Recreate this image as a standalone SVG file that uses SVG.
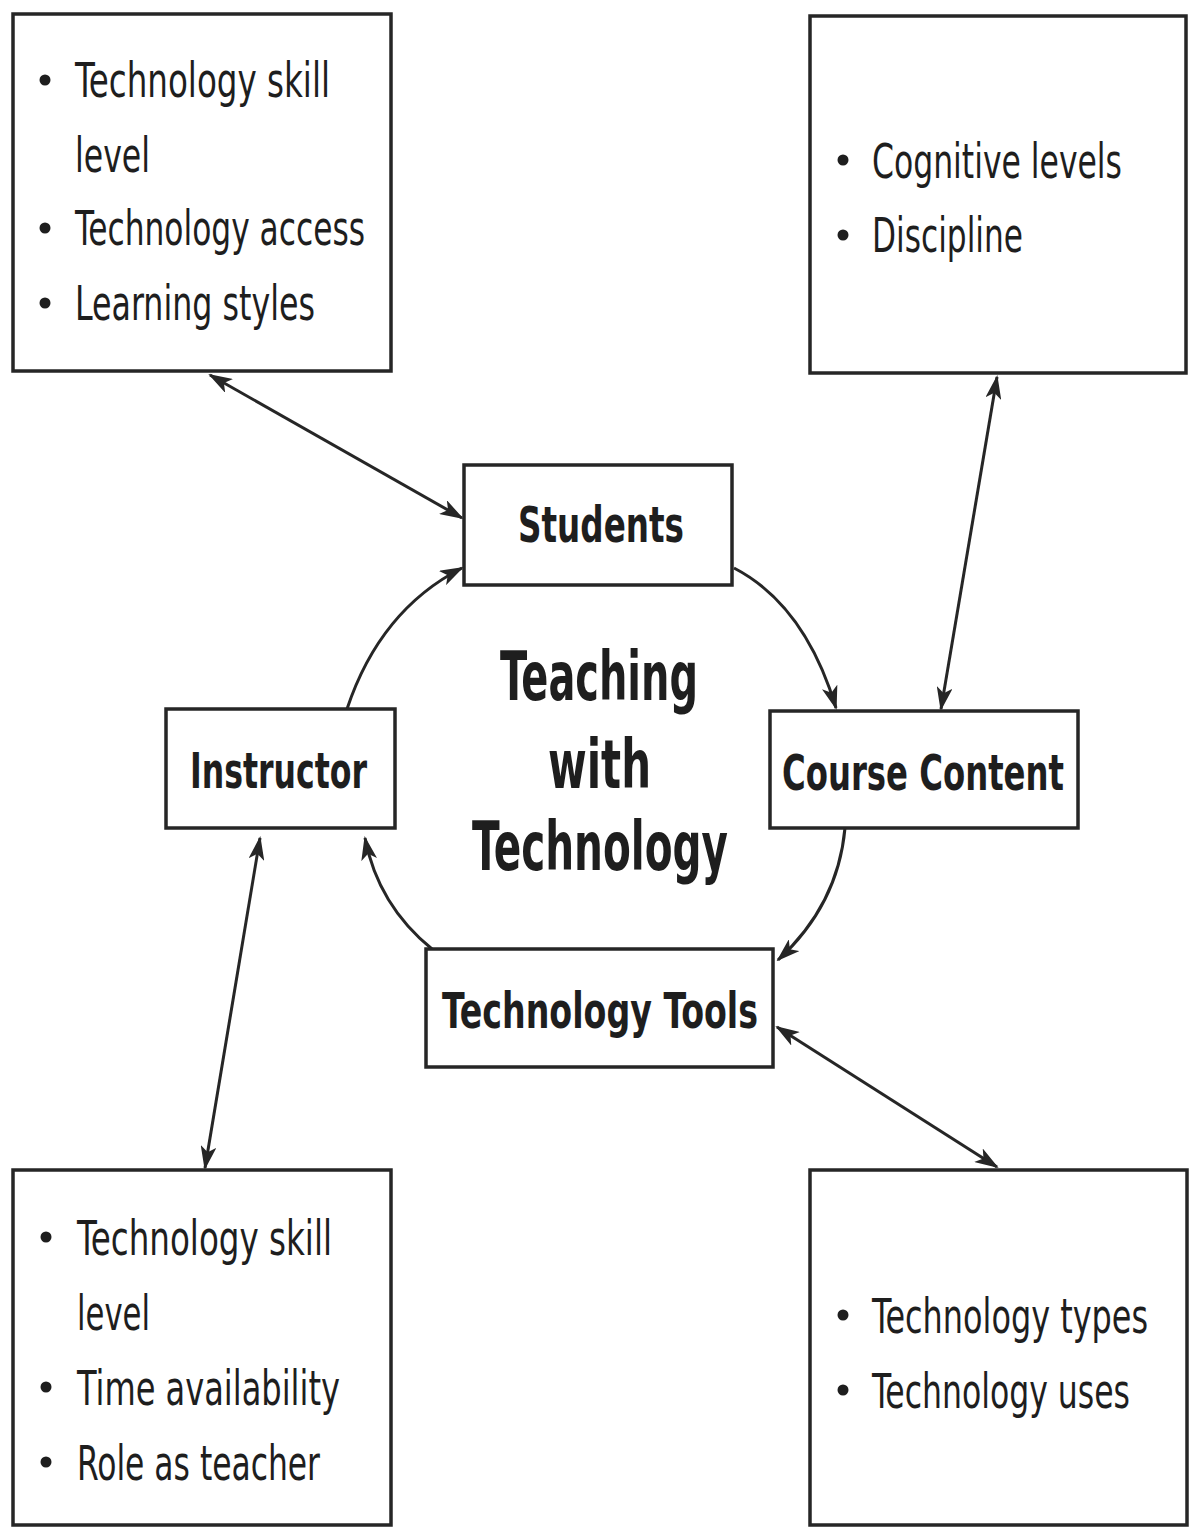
<svg xmlns="http://www.w3.org/2000/svg" width="1190" height="1528" viewBox="0 0 1190 1528">
<style>
.box{fill:#fff;stroke:#262626;stroke-width:3.5}
.t{font-family:"Liberation Sans Narrow","DejaVu Sans Condensed","Liberation Sans",sans-serif;fill:#1e1e1e}
.li{font-size:48px}
.lb{font-size:50px;font-weight:bold}
.ct{font-size:68px;font-weight:bold}
.bul{fill:#1e1e1e}
.c{fill:none;stroke:#262626;stroke-width:3}
</style>
<defs>
<marker id="ah" viewBox="0 0 24 16" refX="22" refY="8" markerWidth="24" markerHeight="16" markerUnits="userSpaceOnUse" orient="auto-start-reverse">
<path d="M0,0 L24,8 L0,16 L6,8 z" fill="#262626"/>
</marker>
</defs>
<rect width="1190" height="1528" fill="#fff"/>
<g id="connectors">
<line class="c" x1="210" y1="375" x2="462" y2="518" marker-start="url(#ah)" marker-end="url(#ah)"/>
<path class="c" d="M347,709 Q380,610 462,568" marker-end="url(#ah)"/>
<path class="c" d="M734,568 Q805,605 836,708" marker-end="url(#ah)"/>
<path class="c" d="M845,828 Q838,905 778,960" marker-end="url(#ah)"/>
<path class="c" d="M432,949 Q378,905 365,838" marker-end="url(#ah)"/>
<line class="c" x1="997" y1="377" x2="941" y2="709" marker-start="url(#ah)" marker-end="url(#ah)"/>
<line class="c" x1="260" y1="838" x2="205" y2="1168" marker-start="url(#ah)" marker-end="url(#ah)"/>
<line class="c" x1="777" y1="1027" x2="997" y2="1167" marker-start="url(#ah)" marker-end="url(#ah)"/>
</g>
<g id="student-factors">
<rect class="box" x="13" y="14" width="378" height="357"/>
<circle class="bul" cx="45" cy="80" r="5.5"/>
<circle class="bul" cx="45" cy="228" r="5.5"/>
<circle class="bul" cx="45" cy="303" r="5.5"/>
<text class="t li" x="75" y="97" textLength="255" lengthAdjust="spacingAndGlyphs">Technology skill</text>
<text class="t li" x="75" y="172" textLength="75" lengthAdjust="spacingAndGlyphs">level</text>
<text class="t li" x="75" y="245" textLength="290" lengthAdjust="spacingAndGlyphs">Technology access</text>
<text class="t li" x="75" y="320" textLength="240" lengthAdjust="spacingAndGlyphs">Learning styles</text>
</g>
<g id="content-factors">
<rect class="box" x="810" y="16" width="376" height="357"/>
<circle class="bul" cx="843" cy="160" r="5.5"/>
<circle class="bul" cx="843" cy="235" r="5.5"/>
<text class="t li" x="872" y="178" textLength="250" lengthAdjust="spacingAndGlyphs">Cognitive levels</text>
<text class="t li" x="872" y="252" textLength="151" lengthAdjust="spacingAndGlyphs">Discipline</text>
</g>
<g id="students">
<rect class="box" x="464" y="465" width="268" height="120"/>
<text class="t lb" x="518" y="542" textLength="166" lengthAdjust="spacingAndGlyphs">Students</text>
</g>
<g id="instructor">
<rect class="box" x="166" y="709" width="229" height="119"/>
<text class="t lb" x="190" y="788" textLength="177" lengthAdjust="spacingAndGlyphs">Instructor</text>
</g>
<g id="course-content">
<rect class="box" x="770" y="711" width="308" height="117"/>
<text class="t lb" x="782" y="790" textLength="282" lengthAdjust="spacingAndGlyphs">Course Content</text>
</g>
<g id="technology-tools">
<rect class="box" x="426" y="949" width="347" height="118"/>
<text class="t lb" x="442" y="1028" textLength="316" lengthAdjust="spacingAndGlyphs">Technology Tools</text>
</g>
<g id="center-title">
<text class="t ct" x="500" y="700" textLength="198" lengthAdjust="spacingAndGlyphs">Teaching</text>
<text class="t ct" x="548" y="788" textLength="103" lengthAdjust="spacingAndGlyphs">with</text>
<text class="t ct" x="472" y="870" textLength="256" lengthAdjust="spacingAndGlyphs">Technology</text>
</g>
<g id="instructor-factors">
<rect class="box" x="13" y="1170" width="378" height="355"/>
<circle class="bul" cx="46" cy="1237" r="5.5"/>
<circle class="bul" cx="46" cy="1387" r="5.5"/>
<circle class="bul" cx="46" cy="1462" r="5.5"/>
<text class="t li" x="77" y="1255" textLength="255" lengthAdjust="spacingAndGlyphs">Technology skill</text>
<text class="t li" x="77" y="1330" textLength="73" lengthAdjust="spacingAndGlyphs">level</text>
<text class="t li" x="77" y="1405" textLength="263" lengthAdjust="spacingAndGlyphs">Time availability</text>
<text class="t li" x="77" y="1480" textLength="243" lengthAdjust="spacingAndGlyphs">Role as teacher</text>
</g>
<g id="tool-factors">
<rect class="box" x="810" y="1170" width="377" height="355"/>
<circle class="bul" cx="843" cy="1315" r="5.5"/>
<circle class="bul" cx="843" cy="1390" r="5.5"/>
<text class="t li" x="872" y="1333" textLength="276" lengthAdjust="spacingAndGlyphs">Technology types</text>
<text class="t li" x="872" y="1408" textLength="258" lengthAdjust="spacingAndGlyphs">Technology uses</text>
</g>
</svg>
